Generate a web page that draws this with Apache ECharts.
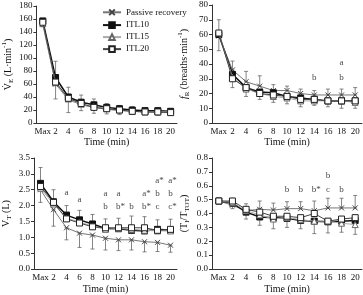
<!DOCTYPE html>
<html>
<head>
<meta charset="utf-8">
<script src="https://cdn.jsdelivr.net/npm/echarts@6/dist/echarts.min.js"></script>
<style>
  html, body { margin: 0; padding: 0; background: #fff; }
  #chart { width: 363px; height: 295px; }
</style>
</head>
<body>
<div id="chart"></div>
<script>
// time points (min)
const categories = ['Max', '2', '4', '6', '8', '10', '12', '14', '16', '18', '20']
const names = ['Passive recovery', 'ITL10', 'ITL15', 'ITL20']

// minute ventilation (L/min)
const vePassive = [152, 60, 36, 28, 24, 21, 19, 18, 17, 16, 16]
const veItl10 = [157, 70, 40, 32, 28, 24, 22, 20, 19, 19, 18]
const veItl15 = [153, 62, 37, 29, 25, 22, 20, 18, 17, 17, 17]
const veItl20 = [155, 63, 38, 30, 24, 22, 20, 18, 17, 17, 16]
const veSdPassive = [4, 23, 20, 9, 9, 7, 6, 5, 4, 4, 4]
const veSdItl10 = [3, 25, 15, 11, 9, 6, 5, 5, 4, 4, 4]

// breathing frequency (breaths/min)
const frPassive = [59, 36, 28, 25, 22, 22, 20, 19, 19, 19, 19]
const frItl10 = [60, 33, 24, 21, 20.5, 18, 17, 16, 15, 15, 15]
const frItl15 = [61, 31, 23, 20, 18, 17, 15, 15, 15, 15, 14]
const frItl20 = [61, 30, 24, 20, 19, 18, 16, 16, 15, 15, 15]
const frSdPassive = [11, 6, 7, 7, 4, 3, 3, 3, 4, 4, 5]
const frSdItl20 = [12, 6, 6, 4, 5, 5, 5, 4, 4, 5, 5]
const frNotes = [['14', 'b', 31], ['18', 'b', 31], ['18', 'a', 41]]

// tidal volume (L)
const vtPassive = [2.5, 1.87, 1.3, 1.13, 1.07, 0.97, 0.92, 0.92, 0.86, 0.84, 0.75]
const vtItl10 = [2.7, 2.12, 1.7, 1.55, 1.42, 1.28, 1.27, 1.22, 1.2, 1.25, 1.22]
const vtItl15 = [2.55, 2.05, 1.6, 1.48, 1.35, 1.25, 1.28, 1.25, 1.22, 1.2, 1.2]
const vtItl20 = [2.6, 2.1, 1.58, 1.45, 1.33, 1.3, 1.3, 1.3, 1.3, 1.22, 1.25]
const vtSdItl10 = [0.5, 0.38, 0.3, 0.3, 0.3, 0.3, 0.33, 0.45, 0.45, 0.3, 0.35]
const vtSdPassive = [0.4, 0.52, 0.38, 0.45, 0.44, 0.37, 0.34, 0.32, 0.32, 0.29, 0.22]
const vtNotes = [
  ['4', 'a', 2.42], ['6', 'a', 2.18],
  ['10', 'a', 2.37], ['10', 'b', 1.96],
  ['12', 'a', 2.37], ['12', 'b*', 1.96],
  ['14', 'b', 1.96],
  ['16', 'a*', 2.37], ['16', 'b*', 1.96],
  ['18', 'a*', 2.8], ['18', 'b', 2.37], ['18', 'c', 1.96],
  ['20', 'a*', 2.8], ['20', 'b', 2.37], ['20', 'c*', 1.96]
]

// duty cycle Ti/Ttot
const tiPassive = [0.49, 0.46, 0.42, 0.43, 0.425, 0.435, 0.435, 0.42, 0.44, 0.44, 0.44]
const tiItl10 = [0.49, 0.475, 0.41, 0.375, 0.37, 0.365, 0.35, 0.345, 0.34, 0.345, 0.35]
const tiItl15 = [0.49, 0.48, 0.42, 0.39, 0.36, 0.37, 0.355, 0.345, 0.345, 0.33, 0.32]
const tiItl20 = [0.49, 0.49, 0.43, 0.41, 0.38, 0.38, 0.37, 0.4, 0.345, 0.36, 0.37]
const tiSdPassive = [0.02, 0.05, 0.05, 0.06, 0.05, 0.05, 0.05, 0.07, 0.07, 0.07, 0.09]
const tiSdItl10 = [0.02, 0.04, 0.05, 0.06, 0.08, 0.065, 0.06, 0.09, 0.08, 0.08, 0.1]
const tiNotes = [
  ['10', 'b', 0.573], ['12', 'b', 0.573], ['14', 'b*', 0.573],
  ['16', 'c', 0.573], ['16', 'b', 0.67], ['18', 'b', 0.573]
]

const FONT = 'Liberation Serif'
const xPath = 'path://M0,0L10,10M10,0L0,10'

const styles = [
  { symbol: xPath, size: 5, line: '#777', width: 1, fill: 'none', border: '#444' },
  { symbol: 'rect', size: 6, line: '#111', width: 1.5, fill: '#111', border: '#111' },
  { symbol: 'triangle', size: 6, line: '#aaa', width: 1, fill: '#fff', border: '#666' },
  { symbol: 'rect', size: 6, line: '#444', width: 1, fill: '#fff', border: '#222' }
]

const grids = [
  { left: 30, top: 6, width: 147, height: 117 },
  { left: 212, top: 5, width: 150, height: 118 },
  { left: 30, top: 158, width: 147, height: 117 },
  { left: 212, top: 158, width: 150, height: 117 }
]
const xNameGaps = [12, 12, 15, 15]

const rich = {
  t: { fontFamily: FONT, fontSize: 10, color: '#111', lineHeight: 14, verticalAlign: 'middle' },
  i: { fontFamily: FONT, fontSize: 10, color: '#111', fontStyle: 'italic', lineHeight: 14, verticalAlign: 'middle' },
  s: { fontFamily: FONT, fontSize: 7, color: '#111', lineHeight: 14, verticalAlign: 'bottom' },
  p: { fontFamily: FONT, fontSize: 7, color: '#111', lineHeight: 14, verticalAlign: 'top' }
}

const yDefs = [
  { max: 180, interval: 20, name: '{t|V\u0307}{s|E}{t| (L·min}{p|-1}{t|)}', dec: 0 },
  { max: 80, interval: 10, name: '{i|f}{s|R}{t| (breaths·min}{p|-1}{t|)}', dec: 0 },
  { max: 3.5, interval: 0.5, name: '{t|V}{s|T}{t| (L)}', dec: 1 },
  { max: 0.8, interval: 0.1, name: '{t|(T}{s|I}{t|/T}{s|TOT}{t|)}', dec: 1 }
]

const axisLine = { lineStyle: { color: '#333', width: 1 } }
const axisTick = { inside: false, length: 3, lineStyle: { color: '#333' } }

const xAxes = grids.map((g, i) => ({
  type: 'category',
  gridIndex: i,
  data: categories,
  boundaryGap: true,
  axisLine,
  axisTick,
  axisLabel: { interval: 0, fontFamily: FONT, fontSize: 9, color: '#111', margin: 4 },
  name: 'Time (min)',
  nameLocation: 'middle',
  nameGap: xNameGaps[i],
  nameTextStyle: { fontFamily: FONT, fontSize: 10, color: '#111' }
}))

const yAxes = yDefs.map((d, i) => ({
  type: 'value',
  gridIndex: i,
  min: 0,
  max: d.max,
  interval: d.interval,
  splitLine: { show: false },
  axisLine: { show: true, lineStyle: { color: '#333', width: 1 } },
  axisTick: { show: true, length: 3, lineStyle: { color: '#333' } },
  axisLabel: {
    fontFamily: FONT, fontSize: 9, color: '#111', margin: 4,
    formatter: v => v.toFixed(d.dec)
  },
  name: d.name,
  nameLocation: 'middle',
  nameRotate: 90,
  nameGap: 21,
  nameTextStyle: { rich }
}))

const panels = [
  { data: [vePassive, veItl10, veItl15, veItl20], errs: [[0, veSdPassive, 'down'], [1, veSdItl10, 'up']], notes: [] },
  { data: [frPassive, frItl10, frItl15, frItl20], errs: [[0, frSdPassive, 'up'], [3, frSdItl20, 'down']], notes: frNotes },
  { data: [vtPassive, vtItl10, vtItl15, vtItl20], errs: [[1, vtSdItl10, 'up'], [0, vtSdPassive, 'down']], notes: vtNotes },
  { data: [tiPassive, tiItl10, tiItl15, tiItl20], errs: [[0, tiSdPassive, 'up'], [1, tiSdItl10, 'down']], notes: tiNotes }
]

function renderErr(params, api) {
  const x = api.value(0)
  const lo = api.value(1)
  const hi = api.value(2)
  const a = api.coord([x, lo])
  const b = api.coord([x, hi])
  const cap = 2
  const st = { stroke: '#666', lineWidth: 0.8 }
  return {
    type: 'group',
    children: [
      { type: 'line', shape: { x1: a[0], y1: a[1], x2: b[0], y2: b[1] }, style: st },
      { type: 'line', shape: { x1: a[0] - cap, y1: a[1], x2: a[0] + cap, y2: a[1] }, style: st },
      { type: 'line', shape: { x1: b[0] - cap, y1: b[1], x2: b[0] + cap, y2: b[1] }, style: st }
    ]
  }
}

const series = []
panels.forEach((p, pi) => {
  p.errs.forEach(([si, sd, dir]) => {
    const vals = p.data[si]
    series.push({
      type: 'custom',
      xAxisIndex: pi,
      yAxisIndex: pi,
      z: 1,
      silent: true,
      renderItem: renderErr,
      data: vals.map((v, k) => [k, dir === 'up' ? v : v - sd[k], dir === 'down' ? v : v + sd[k]])
    })
  })
  p.data.forEach((vals, si) => {
    const s = styles[si]
    series.push({
      type: 'line',
      name: names[si],
      xAxisIndex: pi,
      yAxisIndex: pi,
      z: 3 + si,
      data: vals,
      symbol: s.symbol,
      symbolSize: s.size,
      showAllSymbol: true,
      lineStyle: { color: s.line, width: s.width },
      itemStyle: { color: s.fill, borderColor: s.border, borderWidth: 1 },
      animation: false
    })
  })
  if (p.notes.length) {
    series.push({
      type: 'scatter',
      xAxisIndex: pi,
      yAxisIndex: pi,
      symbolSize: 1,
      itemStyle: { color: 'rgba(0,0,0,0)' },
      silent: true,
      data: p.notes.map(n => ({
        value: [n[0], n[2]],
        text: n[1],
        label: { offset: [n[1].length > 1 ? 2 : 0, 0] }
      })),
      label: {
        show: true,
        position: 'inside',
        fontFamily: FONT,
        fontSize: 9,
        color: '#111',
        formatter: prm => prm.data.text
      },
      animation: false
    })
  }
})

const chart = echarts.init(document.getElementById('chart'), null, { renderer: 'canvas' })
chart.setOption({
  animation: false,
  backgroundColor: '#fff',
  grid: grids,
  xAxis: xAxes,
  yAxis: yAxes,
  legend: {
    data: names,
    orient: 'vertical',
    left: 97,
    top: 2,
    itemWidth: 18,
    itemHeight: 7,
    itemGap: 3,
    textStyle: { fontFamily: FONT, fontSize: 9, color: '#111' }
  },
  series
})
</script>
</body>
</html>
